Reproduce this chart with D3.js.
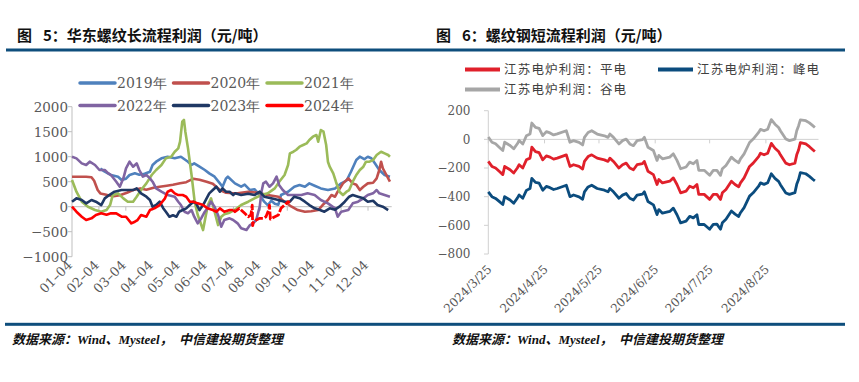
<!DOCTYPE html>
<html><head><meta charset="utf-8">
<script src="https://cdn.jsdelivr.net/npm/d3@7"></script>
<style>body{margin:0;background:#fff}svg{display:block}</style>
</head><body><svg id="c" width="859" height="382"></svg>
<script>
// ---------- Left chart data (day of year, value) ----------
const leftYears = ["2019年","2020年","2021年","2022年","2023年","2024年"];
const leftColors = ["#4F81BD","#C0504D","#9BBB59","#8064A2","#1F3864","#FF0000"];
const monthTicks = ["01-04","02-04","03-04","04-04","05-04","06-04","07-04","08-04","09-04","10-04","11-04","12-04"];
const leftYTicks = [-1000,-500,0,500,1000,1500,2000];

const s2019 = [[36,760],[41,700],[48,634],[56,600],[60,533],[65,560],[69,634],[75,667],[80,640],[86,660],[92,700],[95,834],[99,900],[105,967],[112,1000],[120,970],[127,1000],[131,950],[135,900],[139,834],[142,866],[148,800],[154,734],[159,667],[165,600],[171,467],[174,400],[178,567],[180,600],[188,467],[195,400],[199,440],[205,333],[210,350],[216,233],[221,100],[225,30],[229,120],[233,60],[237,40],[240,233],[248,300],[255,400],[261,433],[267,400],[272,467],[278,420],[285,366],[293,333],[301,366],[308,467],[314,520],[319,700],[325,934],[329,1000],[334,950],[338,1000],[342,970],[346,867],[351,734],[357,634],[363,600]];
const s2020 = [[4,600],[12,600],[20,600],[26,590],[29,520],[33,333],[36,266],[44,233],[51,210],[58,230],[66,280],[73,333],[81,366],[88,340],[96,380],[103,400],[111,420],[118,440],[126,470],[133,490],[141,560],[148,540],[156,500],[163,460],[171,333],[178,280],[186,270],[191,267],[203,300],[214,280],[225,233],[237,200],[244,100],[252,0],[259,-67],[267,-100],[274,-90],[282,-67],[287,33],[293,134],[297,233],[301,200],[304,300],[310,467],[316,567],[321,467],[325,440],[329,333],[333,400],[338,467],[344,480],[348,567],[351,734],[353,900],[355,767],[359,634],[363,500]];
const s2021 = [[4,533],[9,300],[15,100],[22,0],[30,-67],[37,-100],[43,-67],[47,33],[50,233],[56,266],[62,166],[67,100],[73,100],[77,200],[82,333],[88,467],[94,634],[99,734],[105,834],[110,967],[116,1000],[120,1100],[124,1167],[126,1300],[128.5,1700],[130.4,1734],[132,1500],[135,1167],[139,634],[142.5,100],[146,-166],[150,-367],[152,-467],[154.5,-233],[157.5,33],[161,167],[165,-100],[169,-367],[172.5,-200],[176,-150],[182,-120],[188,-60],[195,33],[203,100],[210,167],[218,233],[225,267],[233,367],[238,500],[244,634],[248,834],[250,1067],[254,1100],[257,1134],[261,1200],[265,1234],[269,1267],[272,1334],[276,1400],[280,1434],[282,1300],[285,1534],[288,1500],[291,1234],[293,900],[295,800],[299,667],[302,500],[306,300],[310,233],[314,300],[317,333],[321,500],[325,634],[329,734],[333,800],[336,900],[340,900],[344,934],[348,1034],[353,1100],[357,1067],[361,1034],[363,1000]];
const s2022 = [[4,1000],[9,967],[15,867],[20,834],[24,900],[30,834],[35,734],[41,734],[45,667],[48,634],[54,500],[58,400],[62,567],[65,767],[69,900],[73,800],[77,867],[80,734],[84,600],[88,634],[92,567],[95,500],[99,366],[105,300],[112,233],[120,200],[124,100],[127,33],[131,-100],[135,-130],[139,-67],[142,-200],[146,-333],[150,-230],[154,-100],[157,-30],[161,100],[165,0],[169,-170],[172.5,-400],[176,-266],[182,-233],[186,-266],[191,-333],[195,-433],[201,-467],[205,-367],[208,-340],[212,-266],[216,0],[218,300],[220,467],[223,500],[227,400],[231,467],[235,600],[238,430],[242,333],[248,233],[255,233],[263,233],[270,267],[278,233],[285,134],[293,67],[301,-33],[304,-200],[308,-100],[316,-67],[321,67],[327,100],[333,167],[338,233],[344,267],[348,333],[351,267],[357,233],[363,200]];
const s2023 = [[4,100],[9,167],[15,134],[20,67],[26,134],[31,100],[37,33],[41,167],[46,233],[52,300],[60,333],[67,333],[73,333],[77,367],[82,267],[88,200],[92,134],[95,0],[99,33],[103,100],[107,-30],[110,-100],[114,-200],[118,-170],[122,-200],[125,-100],[129,-67],[133,-33],[137,33],[141,100],[144,70],[148,-67],[152,33],[156,167],[159,267],[163,333],[167,400],[171,300],[174,367],[178,300],[182,300],[186,233],[188,267],[195,233],[203,260],[210,233],[216,300],[221,200],[229,167],[237,134],[244,100],[250,100],[255,200],[261,170],[267,100],[272,33],[278,-33],[284,-67],[289,-100],[295,-33],[301,-60],[306,0],[312,100],[317,200],[321,233],[327,200],[333,167],[338,100],[344,120],[349,33],[355,0],[361,-67]];
const s2024 = [[4,0],[9,-100],[15,-200],[20,-267],[26,-233],[31,-167],[37,-133],[43,-160],[48,-133],[54,-133],[60,-200],[65,-200],[71,-333],[75,-300],[78,-267],[82,-167],[88,-200],[92,-67],[97,-33],[103,33],[109,167],[112,300],[116,333],[120,267],[124,233],[129,233],[133,200],[137,100],[141,100],[146,67],[152,33],[157,-33],[163,-67],[167,-100],[171,-33],[176,-100],[182,-67],[186,-67],[188,-100],[193,-33],[199,-133],[203,-200],[206,-167],[207.5,30],[208,-380],[209,-300],[212,-267],[216,-233],[220,-233],[223,-200],[226,-67],[227,30],[228,-250],[233,-200],[237,-167],[240,-33],[244,33],[248,100],[250,80]];
const leftSeries = [s2019,s2020,s2021,s2022,s2023,s2024];

// ---------- Right chart data ----------
const rightNames = ["江苏电炉利润：平电","江苏电炉利润：峰电","江苏电炉利润：谷电"];
const rightColors = ["#E0202B","#0B4C7E","#A6A6A6"];
const rightYTicks = [-800,-600,-400,-200,0,200];
const rightXTicks = ["2024-03-25","2024-04-25","2024-05-25","2024-06-25","2024-07-25","2024-08-25"];
const rightDates = ["03-25","03-27","03-29","03-31","04-02","04-03","04-06","04-08","04-10","04-11","04-13","04-15","04-17","04-18","04-20","04-22","04-24","04-26","04-28","04-30","05-02","05-07","05-09","05-11","05-14","05-16","05-17","05-19","05-21","05-24","05-28","05-30","05-31","06-02","06-05","06-07","06-09","06-11","06-13","06-15","06-18","06-19","06-21","06-24","06-26","06-27","06-29","07-03","07-05","07-07","07-09","07-12","07-14","07-16","07-18","07-19","07-22","07-25","07-27","07-29","07-31","08-01","08-03","08-06","08-08","08-10","08-11","08-13","08-16","08-18","08-21","08-22","08-24","08-26","08-28","08-30","09-01","09-02","09-05","09-07","09-10","09-11","09-12","09-13","09-16","09-18","09-20","09-21"];
const flatPower = [-154,-189,-200,-223,-246,-189,-212,-235,-200,-177,-200,-143,-131,-55,-85,-92,-143,-115,-124,-138,-131,-108,-189,-177,-189,-207,-154,-120,-108,-131,-143,-154,-131,-154,-200,-177,-166,-200,-212,-177,-170,-154,-223,-246,-315,-280,-304,-292,-269,-315,-373,-361,-327,-338,-315,-384,-384,-419,-384,-384,-419,-373,-350,-292,-315,-331,-304,-269,-189,-166,-120,-97,-108,-97,-28,-62,-85,-108,-166,-177,-166,-108,-74,-23,-32,-51,-74,-85];
const peakPower = [-366,-400,-412,-433,-455,-400,-423,-446,-410,-388,-411,-356,-343,-272,-300,-305,-355,-328,-337,-350,-343,-320,-400,-388,-401,-418,-366,-332,-320,-343,-355,-366,-343,-366,-411,-389,-378,-411,-423,-389,-382,-366,-434,-457,-525,-490,-515,-503,-480,-526,-583,-571,-537,-548,-526,-594,-594,-627,-593,-592,-627,-582,-558,-500,-522,-538,-512,-476,-396,-373,-327,-304,-314,-303,-240,-272,-293,-316,-374,-384,-372,-314,-280,-232,-240,-258,-280,-290];
const valleyPower = [16,-20,-31,-55,-78,-20,-43,-66,-31,-8,-32,25,37,114,83,77,26,54,45,31,38,60,-20,-9,-21,-39,14,48,60,37,25,14,37,14,-32,-9,2,-32,-44,-9,-2,14,-55,-78,-147,-112,-136,-124,-101,-147,-205,-193,-159,-170,-147,-216,-216,-251,-216,-216,-251,-205,-182,-124,-147,-163,-136,-101,-22,2,48,70,60,71,138,106,83,60,2,-9,2,60,94,136,130,115,94,83];
const rightSeries = [flatPower, peakPower, valleyPower];

// ---------- Drawing ----------
const svg = d3.select("#c");
const serif = "'DejaVu Serif','Liberation Serif',serif";
const cjk = "'Noto Sans CJK SC','Noto Sans',sans-serif";
const barColor = "#0E4E7C";
const axisGray = "#BFBFBF";
const labelGray = "#595959";

// titles and bars
svg.append("text").attr("x",17).attr("y",41).attr("font-family",cjk).attr("font-weight","bold").attr("font-size",15).attr("fill","#111").attr("xml:space","preserve").text("图\u2002 5：华东螺纹长流程利润（元/吨）");
svg.append("text").attr("x",436).attr("y",41).attr("font-family",cjk).attr("font-weight","bold").attr("font-size",15).attr("fill","#111").attr("xml:space","preserve").text("图\u2002 6：螺纹钢短流程利润（元/吨）");
svg.append("rect").attr("x",6).attr("y",48.5).attr("width",839).attr("height",3).attr("fill",barColor);
svg.append("rect").attr("x",5).attr("y",322.8).attr("width",840).attr("height",3).attr("fill",barColor);
const footer = "数据来源：Wind、Mysteel，\u2002中信建投期货整理";
[12,452].forEach(x=>{
  svg.append("text").attr("x",x).attr("y",344).attr("font-family","'Liberation Serif','Noto Sans CJK SC',serif")
    .attr("font-style","italic").attr("font-weight","bold").attr("font-size",13).attr("fill","#111").attr("xml:space","preserve").text(footer);
});

// ---------- Left chart ----------
const xL = d3.scaleLinear().domain([4,365]).range([72,391.7]);
const yL = d3.scaleLinear().domain([-1000,2000]).range([256.7,106.7]);
const gL = svg.append("g");
gL.append("line").attr("x1",xL(4)).attr("x2",xL(4)).attr("y1",yL(2000)).attr("y2",yL(-1000)).attr("stroke",axisGray);
leftYTicks.forEach(v=>{
  gL.append("line").attr("x1",xL(4)-4).attr("x2",xL(4)).attr("y1",yL(v)).attr("y2",yL(v)).attr("stroke",axisGray);
  gL.append("text").attr("x",68).attr("y",yL(v)).attr("dy","0.36em").attr("text-anchor","end")
    .attr("font-family",serif).attr("font-size",13.5).attr("fill",labelGray).text(v<0?"\u2212"+Math.abs(v):v);
});
gL.append("line").attr("x1",xL(4)).attr("x2",xL(365)).attr("y1",yL(0)).attr("y2",yL(0)).attr("stroke",axisGray);
const monthStep = (365-4)/11.88;
monthTicks.forEach((t,i)=>{
  const x = xL(4 + i*monthStep);
  gL.append("line").attr("x1",x).attr("x2",x).attr("y1",yL(0)).attr("y2",yL(0)+4).attr("stroke",axisGray);
  gL.append("text").attr("transform",`translate(${x+1},${266}) rotate(-45)`).attr("text-anchor","end")
    .attr("font-family",serif).attr("font-size",13).attr("fill",labelGray).text(t.replace("-","\u2013"));
});
const lineL = d3.line().x(d=>xL(d[0])).y(d=>yL(d[1]));
leftSeries.forEach((s,i)=>{
  if(i===5){
    gL.append("path").attr("d",lineL(s.filter(d=>d[0]<=186))).attr("fill","none").attr("stroke",leftColors[i]).attr("stroke-width",2.6).attr("stroke-linejoin","round");
    gL.append("path").attr("d",lineL(s.filter(d=>d[0]>=186))).attr("fill","none").attr("stroke",leftColors[i]).attr("stroke-width",2.8).attr("stroke-dasharray","8 2").attr("stroke-linejoin","round");
  } else {
    gL.append("path").attr("d",lineL(s)).attr("fill","none").attr("stroke",leftColors[i]).attr("stroke-width",2.6).attr("stroke-linejoin","round");
  }
});
leftYears.forEach((name,i)=>{
  const col = i%3, row = Math.floor(i/3);
  const x0 = 80 + col*93.5, y0 = 83 + row*22.5;
  gL.append("line").attr("x1",x0).attr("x2",x0+35).attr("y1",y0).attr("y2",y0).attr("stroke",leftColors[i]).attr("stroke-width",3.5).attr("stroke-linecap","round");
  gL.append("text").attr("x",x0+37).attr("y",y0).attr("dy","0.36em").attr("font-family",serif).attr("font-size",14).attr("fill",labelGray).text(name);
});

// ---------- Right chart ----------
const parse = d3.timeParse("%Y-%m-%d");
const xR = d3.scaleTime().domain([parse("2024-03-25"),parse("2024-09-23")]).range([488.3,818.5]);
const yR = d3.scaleLinear().domain([-800,200]).range([254,110.7]);
const gR = svg.append("g");
gR.append("line").attr("x1",488.3).attr("x2",488.3).attr("y1",yR(200)).attr("y2",yR(-800)).attr("stroke","#D0D0D0");
rightYTicks.forEach(v=>{
  gR.append("line").attr("x1",484).attr("x2",488.3).attr("y1",yR(v)).attr("y2",yR(v)).attr("stroke","#D0D0D0");
  gR.append("text").attr("x",470.5).attr("y",yR(v)).attr("dy","0.36em").attr("text-anchor","end")
    .attr("font-family",serif).attr("font-size",12).attr("fill",labelGray).text(v<0?"\u2212"+Math.abs(v):v);
});
gR.append("line").attr("x1",xR.range()[0]).attr("x2",xR.range()[1]).attr("y1",yR(0)).attr("y2",yR(0)).attr("stroke","#D0D0D0");
rightXTicks.forEach(t=>{
  const d = parse(t), x = xR(d);
  gR.append("line").attr("x1",x).attr("x2",x).attr("y1",yR(0)).attr("y2",yR(0)+4).attr("stroke","#D0D0D0");
  gR.append("text").attr("transform",`translate(${x+4},${270}) rotate(-45)`).attr("text-anchor","end")
    .attr("font-family",serif).attr("font-size",12).attr("fill",labelGray).text(d3.timeFormat("%Y/%-m/%-d")(d));
});
const lineR = d3.line().x((d,i)=>xR(parse("2024-"+rightDates[i]))).y(d=>yR(d));
[2,0,1].forEach(i=>{
  gR.append("path").attr("d",lineR(rightSeries[i])).attr("fill","none").attr("stroke",rightColors[i]).attr("stroke-width",2.8).attr("stroke-linejoin","round");
});
const legPos = [[465,69.5],[658,69.5],[465,89.5]];
rightNames.forEach((n,i)=>{
  const [x0,y0] = legPos[i];
  gR.append("line").attr("x1",x0).attr("x2",x0+35).attr("y1",y0).attr("y2",y0).attr("stroke",rightColors[i]).attr("stroke-width",4);
  gR.append("text").attr("x",x0+39).attr("y",y0).attr("dy","0.36em").attr("font-family",cjk).attr("font-size",12.5).attr("letter-spacing",1.2).attr("fill","#404040").text(n);
});
</script></body></html>
